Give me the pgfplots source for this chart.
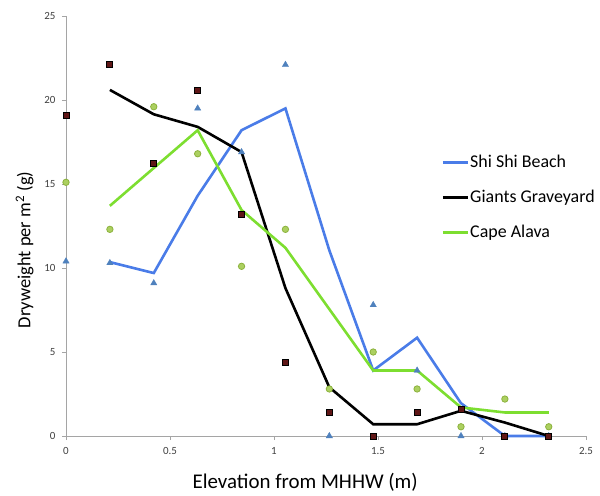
\documentclass[border=0pt]{standalone}
\usepackage{fontspec}
\setmainfont{Carlito}
\usepackage{pgfplots}
\pgfplotsset{compat=1.18}
\definecolor{shiblue}{RGB}{74,124,232}
\definecolor{capegreen}{RGB}{125,222,48}
\definecolor{tri}{RGB}{79,129,189}
\definecolor{sqfill}{RGB}{95,22,22}
\definecolor{circfill}{RGB}{172,208,96}
\definecolor{circdraw}{RGB}{140,178,62}
\definecolor{axisgray}{RGB}{165,165,165}

\begin{document}
\begin{tikzpicture}
\path[use as bounding box] (-66bp,-60bp) rectangle (534bp,436bp);
\begin{axis}[
  scale only axis,
  width=520bp, height=420bp,
  xmin=0, xmax=2.5, ymin=0, ymax=25,
  xtick={0,0.5,1,1.5,2,2.5},
  ytick={0,5,10,15,20,25},
  xticklabels={0,0.5,1,1.5,2,2.5},
  axis lines*=left,
  axis line style={draw=axisgray, line width=0.8bp, -},
  tick style={draw=axisgray, line width=0.8bp},
  tick align=outside,
  major tick length=4bp,
  /pgf/number format/assume math mode=true,
  ticklabel style={font=\fontsize{11}{13}\selectfont, text=black!75},
  yticklabel style={xshift=-3bp},
  xticklabel style={yshift=-4bp},
  xlabel={Elevation from MHHW (m)},
  ylabel={Dryweight per m\textsuperscript{2} (g)},
  xlabel style={at={(ticklabel cs:0.46)}, font=\fontsize{21}{24}\selectfont, yshift=-12bp},
  ylabel style={at={(ticklabel cs:0.443)}, font=\fontsize{18.5}{22}\selectfont, yshift=4bp},
  clip=false,
  legend cell align=left,
  legend style={draw=none, fill=none, at={(0.722,0.673)}, anchor=north west,
    font=\fontsize{18}{22}\selectfont, row sep=17bp, inner sep=0pt,
    nodes={inner xsep=1bp}},
  legend image code/.code={\draw[#1] (0bp,0bp) -- (25bp,0bp);},
]
% observations
\addplot[only marks, mark=triangle*, mark size=3.6bp, color=tri, forget plot] coordinates {
  (0,10.4) (0.211,10.3) (0.422,9.1) (0.633,19.5) (0.844,16.9) (1.055,22.1)
  (1.266,0) (1.477,7.8) (1.688,3.9) (1.899,0) (2.11,0) (2.321,0)
};
\addplot[only marks, mark=square*, mark size=3bp, mark options={fill=sqfill, draw=black, line width=0.8bp}, forget plot] coordinates {
  (0,19.1) (0.211,22.1) (0.422,16.2) (0.633,20.6) (0.844,13.2) (1.055,4.4)
  (1.266,1.4) (1.477,0) (1.688,1.4) (1.899,1.6) (2.11,0) (2.321,0)
};
\addplot[only marks, mark=*, mark size=3.2bp, mark options={fill=circfill, draw=circdraw, line width=0.8bp}, forget plot] coordinates {
  (0,15.1) (0.211,12.3) (0.422,19.6) (0.633,16.8) (0.844,10.1) (1.055,12.3)
  (1.266,2.8) (1.477,5.0) (1.688,2.8) (1.899,0.55) (2.11,2.2) (2.321,0.55)
};
% two-point moving averages
\addplot[shiblue, line width=2.6bp] coordinates {
  (0.211,10.35) (0.422,9.7) (0.633,14.3) (0.844,18.2) (1.055,19.5) (1.266,11.05)
  (1.477,3.9) (1.688,5.85) (1.899,1.95) (2.11,0) (2.321,0)
};
\addplot[black, line width=2.6bp] coordinates {
  (0.211,20.6) (0.422,19.15) (0.633,18.4) (0.844,16.9) (1.055,8.8) (1.266,2.9)
  (1.477,0.7) (1.688,0.7) (1.899,1.5) (2.11,0.8) (2.321,0)
};
\addplot[capegreen, line width=2.6bp] coordinates {
  (0.211,13.7) (0.422,15.95) (0.633,18.2) (0.844,13.45) (1.055,11.2) (1.266,7.55)
  (1.477,3.9) (1.688,3.9) (1.899,1.7) (2.11,1.4) (2.321,1.4)
};
\legend{Shi Shi Beach, Giants Graveyard, Cape Alava}
\end{axis}
\end{tikzpicture}
\end{document}
